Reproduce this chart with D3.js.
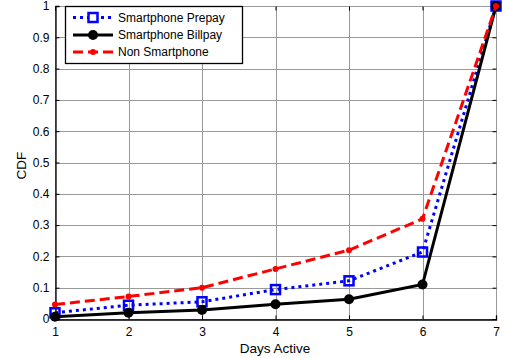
<!DOCTYPE html>
<html>
<head>
<meta charset="utf-8">
<script src="https://cdn.jsdelivr.net/npm/d3@7"></script>
<style>
  html, body { margin: 0; padding: 0; background: #fff; }
  svg { display: block; }
  text { font-family: "Liberation Sans", Arial, sans-serif; fill: #000; }
</style>
</head>
<body>
<svg id="chart" width="505" height="358"></svg>
<script>
// Days active (x) and cumulative fraction of users for each group
const days = [1, 2, 3, 4, 5, 6, 7];
const prepay = [0.02, 0.044, 0.055, 0.094, 0.122, 0.214, 1.0];
const billpay = [0.007, 0.02, 0.029, 0.047, 0.063, 0.11, 1.0];
const nonSmart = [0.046, 0.072, 0.1, 0.16, 0.22, 0.32, 1.0];
const xTicks = [1, 2, 3, 4, 5, 6, 7];
const yTicks = [0, 0.1, 0.2, 0.3, 0.4, 0.5, 0.6, 0.7, 0.8, 0.9, 1];
const seriesNames = ["Smartphone Prepay", "Smartphone Billpay", "Non Smartphone"];

const W = 505, H = 358;
const m = { left: 55, right: 9, top: 6, bottom: 39 };
const svg = d3.select("#chart");

const x = d3.scaleLinear().domain([1, 7]).range([m.left, W - m.right]);
const y = d3.scaleLinear().domain([0, 1]).range([H - m.bottom, m.top]);
const x0 = x.range()[0], x1 = x.range()[1], y0 = y.range()[0], y1 = y.range()[1];

// grid
const grid = svg.append("g").attr("stroke", "#9a9a9a").attr("stroke-width", 1);
grid.selectAll("line.v").data(xTicks).join("line")
  .attr("x1", d => Math.round(x(d)) + 0.5).attr("x2", d => Math.round(x(d)) + 0.5)
  .attr("y1", y1).attr("y2", y0);
grid.selectAll("line.h").data(yTicks).join("line")
  .attr("y1", d => Math.round(y(d)) + 0.5).attr("y2", d => Math.round(y(d)) + 0.5)
  .attr("x1", x0).attr("x2", x1);

// axes with inward ticks
const fmt = d => d3.format("~g")(d);
const gx = svg.append("g").attr("transform", `translate(0,${Math.round(y0) + 0.5})`)
  .call(d3.axisBottom(x).tickValues(xTicks).tickSize(-4).tickPadding(8).tickFormat(fmt));
const gy = svg.append("g").attr("transform", `translate(${Math.round(x0) + 0.5},0)`)
  .call(d3.axisLeft(y).tickValues(yTicks).tickSize(-4).tickPadding(6).tickFormat(fmt));
const gxt = svg.append("g").attr("transform", `translate(0,${Math.round(y1) + 0.5})`)
  .call(d3.axisTop(x).tickValues(xTicks).tickSize(-4).tickFormat(""));
const gyr = svg.append("g").attr("transform", `translate(${Math.round(x1) + 0.5},0)`)
  .call(d3.axisRight(y).tickValues(yTicks).tickSize(-4).tickFormat(""));
[gx, gy].forEach(g => {
  g.selectAll("text").style("font-size", "12px").attr("fill", "#000");
  g.selectAll("line,path").attr("stroke", "#000");
  g.select(".domain").attr("stroke-width", 1.3);
});
[gxt, gyr].forEach(g => {
  g.select(".domain").remove();
  g.selectAll("line").attr("stroke", "#000");
});

// axis titles
svg.append("text").attr("x", 275).attr("y", 353)
  .attr("text-anchor", "middle").style("font-size", "13.5px").text("Days Active");
svg.append("text").attr("transform", "translate(26,165.5) rotate(-90)")
  .attr("text-anchor", "middle").style("font-size", "13.5px").text("CDF");

const line = d3.line().x((d, i) => x(days[i])).y(d => y(d));
const plot = svg.append("g");

// Smartphone Prepay: blue dotted with hollow squares
plot.append("path").datum(prepay).attr("d", line)
  .attr("fill", "none").attr("stroke", "#0000ff").attr("stroke-width", 3)
  .attr("stroke-dasharray", "3,4");
plot.selectAll("rect.pre").data(prepay).join("rect")
  .attr("x", (d, i) => x(days[i]) - 4.5).attr("y", d => y(d) - 4.5)
  .attr("width", 9).attr("height", 9)
  .attr("fill", "none").attr("stroke", "#0000ff").attr("stroke-width", 2.5);

// Smartphone Billpay: black solid with filled circles
plot.append("path").datum(billpay).attr("d", line)
  .attr("fill", "none").attr("stroke", "#000").attr("stroke-width", 3);
plot.selectAll("circle.bill").data(billpay).join("circle")
  .attr("cx", (d, i) => x(days[i])).attr("cy", d => y(d)).attr("r", 5)
  .attr("fill", "#000");

// Non Smartphone: red dashed with small dots
plot.append("path").datum(nonSmart).attr("d", line)
  .attr("fill", "none").attr("stroke", "#ff0000").attr("stroke-width", 3)
  .attr("stroke-dasharray", "10,5");
plot.selectAll("circle.non").data(nonSmart).join("circle")
  .attr("cx", (d, i) => x(days[i])).attr("cy", d => y(d)).attr("r", 3)
  .attr("fill", "#ff0000");

// legend
const lg = svg.append("g");
lg.append("rect").attr("x", 65.5).attr("y", 6.5).attr("width", 177).attr("height", 57)
  .attr("fill", "#fff").attr("stroke", "#000").attr("stroke-width", 1.3);
const rows = [17.5, 35, 52];
const lx0 = 73, lx1 = 113, lm = 93;
// prepay sample
lg.append("line").attr("x1", lx0).attr("x2", lx1).attr("y1", rows[0]).attr("y2", rows[0])
  .attr("stroke", "#0000ff").attr("stroke-width", 3).attr("stroke-dasharray", "3,4");
lg.append("rect").attr("x", lm - 4.5).attr("y", rows[0] - 4.5).attr("width", 9).attr("height", 9)
  .attr("fill", "#fff").attr("stroke", "#0000ff").attr("stroke-width", 2.5);
// billpay sample
lg.append("line").attr("x1", lx0).attr("x2", lx1).attr("y1", rows[1]).attr("y2", rows[1])
  .attr("stroke", "#000").attr("stroke-width", 3);
lg.append("circle").attr("cx", lm).attr("cy", rows[1]).attr("r", 5).attr("fill", "#000");
// non smartphone sample
lg.append("line").attr("x1", lx0).attr("x2", lx1).attr("y1", rows[2]).attr("y2", rows[2])
  .attr("stroke", "#ff0000").attr("stroke-width", 3).attr("stroke-dasharray", "10,5");
lg.append("circle").attr("cx", lm).attr("cy", rows[2]).attr("r", 3).attr("fill", "#ff0000");
lg.selectAll("text.lab").data(seriesNames).join("text")
  .attr("x", 118).attr("y", (d, i) => rows[i] + 4)
  .style("font-size", "12px").text(d => d);
</script>
</body>
</html>
